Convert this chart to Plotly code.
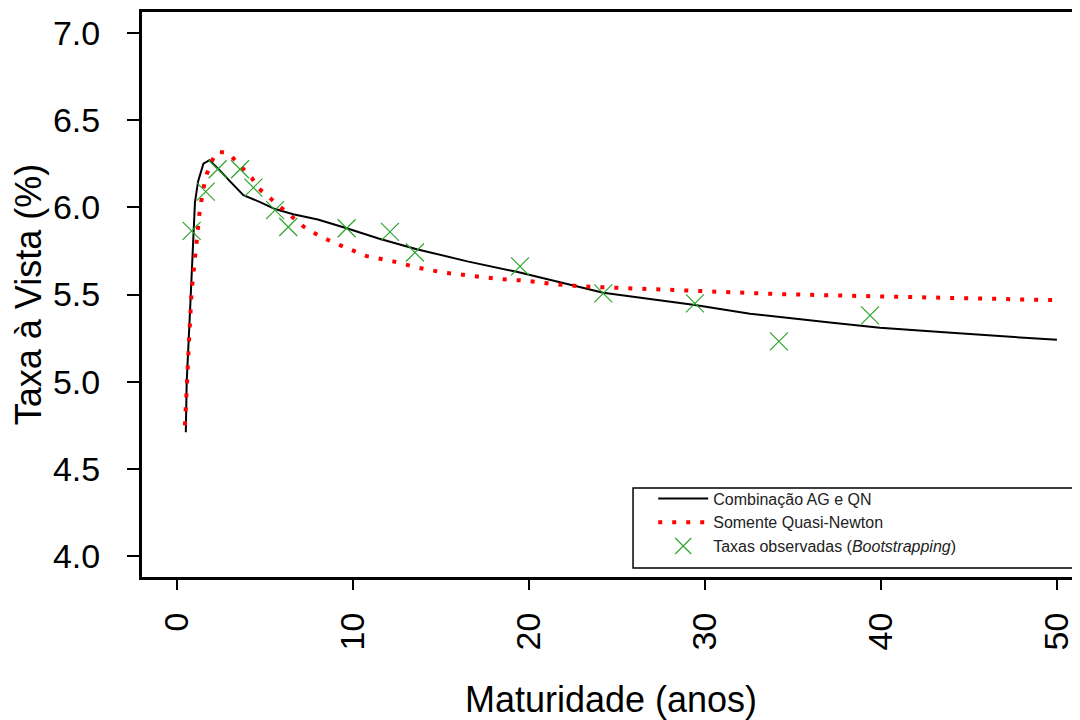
import plotly.graph_objects as go

# curva ajustada: combinacao AG e QN
ag_qn_mat = [0.5, 0.55, 0.7, 0.83, 0.9, 1.02, 1.2, 1.5, 1.84, 2.35, 3.0, 3.77,
             4.72, 5.57, 6.6, 8.0, 9.64, 11.5, 13.62, 16.5, 19.3, 24.22, 29.43,
             32.56, 37.1, 39.94, 44.0, 47.5, 50.0]
ag_qn_taxa = [4.71, 5.0, 5.32, 5.58, 5.78, 6.03, 6.15, 6.25, 6.27, 6.22, 6.15, 6.07,
              6.03, 5.99, 5.96, 5.93, 5.88, 5.82, 5.76, 5.69, 5.63, 5.51, 5.44,
              5.39, 5.34, 5.31, 5.28, 5.255, 5.24]

# curva ajustada: somente quasi-newton
qn_mat = [0.45, 0.55, 0.7, 0.83, 0.98, 1.08, 1.27, 1.46, 1.69, 2.0, 2.31, 2.92,
          3.39, 4.24, 4.62, 5.19, 5.66, 6.6, 7.18, 7.75, 8.31, 9.55, 10.78, 12.29,
          13.62, 15.13, 16.65, 18.35, 19.87, 21.48, 23.09, 24.79, 27.26, 29.72,
          32.37, 34.26, 39.94, 45.0, 49.8]
qn_taxa = [4.75, 4.92, 5.27, 5.52, 5.69, 5.78, 5.96, 6.09, 6.19, 6.27, 6.32, 6.31,
           6.26, 6.17, 6.11, 6.06, 6.02, 5.94, 5.89, 5.855, 5.825, 5.77, 5.72, 5.69,
           5.655, 5.626, 5.607, 5.588, 5.579, 5.559, 5.546, 5.54, 5.531, 5.521,
           5.512, 5.502, 5.489, 5.478, 5.468]

# taxas observadas (bootstrapping)
obs_mat = [0.83, 1.63, 2.31, 3.58, 4.34, 5.57, 6.32, 9.64, 12.1, 13.52,
           19.49, 24.22, 29.43, 34.2, 39.38]
obs_taxa = [5.865, 6.09, 6.218, 6.218, 6.113, 5.984, 5.887, 5.88, 5.859, 5.741,
            5.661, 5.506, 5.449, 5.231, 5.38]

x_ticks = [0, 10, 20, 30, 40, 50]
y_ticks = [4.0, 4.5, 5.0, 5.5, 6.0, 6.5, 7.0]

verde = 'rgb(45,165,45)'

fig = go.Figure()
fig.add_trace(go.Scatter(
    x=ag_qn_mat, y=ag_qn_taxa, mode='lines',
    name='Combinação AG e QN',
    line=dict(color='black', width=2)))
fig.add_trace(go.Scatter(
    x=qn_mat, y=qn_taxa, mode='lines',
    name='Somente Quasi-Newton',
    line=dict(color='red', width=4, dash='4px,10px')))
fig.add_trace(go.Scatter(
    x=obs_mat, y=obs_taxa, mode='markers',
    name='Taxas observadas (<i>Bootstrapping</i>)',
    marker=dict(symbol='x-thin-open', size=18, color=verde,
                line=dict(width=1.2, color=verde))))

# moldura da legenda (como no R, vai ate a borda direita)
fig.add_shape(type='rect', xref='paper', yref='paper',
              x0=0.5235, x1=1.0, y0=0.016, y1=0.1575,
              line=dict(color='black', width=1.5), layer='above')

fig.update_layout(
    width=1072, height=712,
    margin=dict(l=134, r=0, t=4, b=143),
    paper_bgcolor='white', plot_bgcolor='white',
    font=dict(family='Liberation Sans, Arial', color='black'),
    showlegend=True,
    legend=dict(
        x=0.545, y=0.169, xanchor='left', yanchor='top',
        borderwidth=0, bgcolor='rgba(0,0,0,0)',
        font=dict(size=16, color='#222222'),
        itemwidth=50, tracegroupgap=0),
    xaxis=dict(
        range=[-1.99, 51.31], tickvals=x_ticks, ticktext=[str(v) for v in x_ticks],
        tickangle=-90, ticks='outside', ticklen=10, tickwidth=1.5,
        tickcolor='black', tickfont=dict(size=34), ticklabelstandoff=9,
        showline=True, linecolor='black', linewidth=3, mirror=True,
        showgrid=False, zeroline=False, automargin=False,
        title=dict(text='Maturidade (anos)', font=dict(size=36), standoff=40)),
    yaxis=dict(
        range=[3.88, 7.12], tickvals=y_ticks,
        ticktext=['%.1f' % v for v in y_ticks],
        ticks='outside', ticklen=12, tickwidth=1.5, tickcolor='black',
        tickfont=dict(size=34), ticklabelstandoff=20,
        showline=True, linecolor='black', linewidth=3, mirror=False,
        showgrid=False, zeroline=False, automargin=False,
        title=dict(text='Taxa à Vista (%)', font=dict(size=36), standoff=2)),
)

fig.write_html("out.html")
